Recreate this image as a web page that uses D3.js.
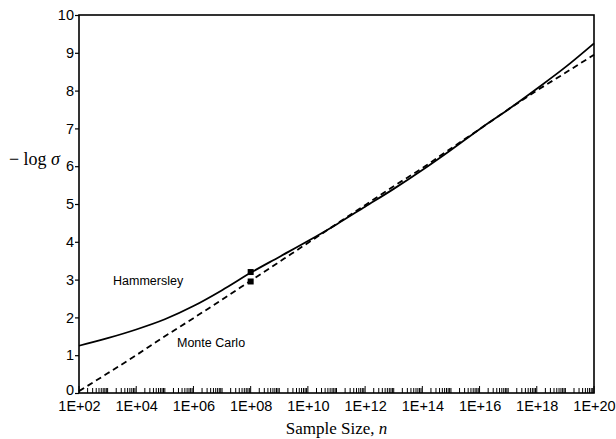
<!DOCTYPE html>
<html>
<head>
<meta charset="utf-8">
<script src="https://cdn.jsdelivr.net/npm/d3@7"></script>
<style>
  body { margin: 0; background: #fff; }
  svg { display: block; }
</style>
</head>
<body>
<div id="chart"></div>
<script>
// ------ Data ---------------------------- //

const sampleSizes = [1e2, 1e3, 1e4, 1e5, 1e6, 1e7, 1e8, 1e9, 1e10, 1e11,
  1e12, 1e13, 1e14, 1e15, 1e16, 1e17, 1e18, 1e19, 1e20];
const hammersley = [1.25, 1.45, 1.68, 1.95, 2.3, 2.72, 3.18, 3.6, 4.02, 4.46,
  4.93, 5.4, 5.9, 6.43, 6.98, 7.5, 8.05, 8.62, 9.25];
const monteCarlo = [0.05, 0.52, 1.0, 1.5, 1.98, 2.47, 2.97, 3.47, 3.97, 4.47,
  4.97, 5.47, 5.95, 6.47, 6.98, 7.5, 8.0, 8.47, 8.95];
// marked points at n = 1E+08
const markedSize = 1e8;
const markedValues = [3.2, 2.95];

const xTickValues = [1e2, 1e4, 1e6, 1e8, 1e10, 1e12, 1e14, 1e16, 1e18, 1e20];
const xTickLabels = ["1E+02", "1E+04", "1E+06", "1E+08", "1E+10",
  "1E+12", "1E+14", "1E+16", "1E+18", "1E+20"];
const yTickValues = [0, 1, 2, 3, 4, 5, 6, 7, 8, 9, 10];

// ------ Drawing area ------- //

const width = 616;
const height = 439;
const margin = { top: 15, right: 22, bottom: 46, left: 79 };

const svg = d3.select("#chart")
  .append("svg")
    .attr("width", width)
    .attr("height", height);

const x = d3.scaleLog()
  .domain([1e2, 1e20])
  .range([margin.left, width - margin.right]);
const y = d3.scaleLinear()
  .domain([0, 10])
  .range([height - margin.bottom, margin.top]);

const sans = "'Liberation Sans', Arial, sans-serif";
const serif = "'Liberation Serif', 'Times New Roman', serif";

// frame
svg.append("rect")
  .attr("x", x.range()[0])
  .attr("y", y.range()[1])
  .attr("width", x.range()[1] - x.range()[0])
  .attr("height", y.range()[0] - y.range()[1])
  .attr("fill", "none")
  .attr("stroke", "#000")
  .attr("stroke-width", 1.6);

// ------ Axes ------- //

// minor log ticks inside the bottom edge
const minorTicks = [];
for (let e = 2; e < 20; e++) {
  for (let m = 1; m < 10; m++) minorTicks.push(m * Math.pow(10, e));
}
minorTicks.push(1e20);

svg.append("g")
  .selectAll("line")
  .data(minorTicks)
  .join("line")
    .attr("x1", d => x(d))
    .attr("x2", d => x(d))
    .attr("y1", y(0))
    .attr("y2", d => y(0) - (xTickValues.includes(d) ? 7 : 5))
    .attr("stroke", "#000")
    .attr("stroke-width", 1);

const xAxis = svg.append("g")
  .attr("transform", `translate(0, ${y(0)})`)
  .call(d3.axisBottom(x)
    .tickValues(xTickValues)
    .tickFormat((d, i) => xTickLabels[i])
    .tickSize(0)
    .tickPadding(8));
xAxis.select(".domain").remove();
xAxis.selectAll("text")
  .attr("font-family", sans)
  .attr("font-size", 14.5)
  .attr("fill", "#000");

const yAxis = svg.append("g")
  .attr("transform", `translate(${x.range()[0]}, 0)`)
  .call(d3.axisLeft(y)
    .tickValues(yTickValues)
    .tickSize(4)
    .tickPadding(1));
yAxis.select(".domain").remove();
yAxis.selectAll("line").attr("stroke", "#000").attr("stroke-width", 1.2);
yAxis.selectAll("text")
  .attr("font-family", sans)
  .attr("font-size", 14.5)
  .attr("fill", "#000");
// lift the zero label clear of the first x label
yAxis.selectAll(".tick")
  .filter(d => d === 0)
  .select("text")
    .attr("dy", "0.1em");

// axis titles
svg.append("text")
  .attr("x", (x.range()[0] + x.range()[1]) / 2)
  .attr("y", 434)
  .attr("text-anchor", "middle")
  .attr("font-family", serif)
  .attr("font-size", 17)
  .html("Sample Size, <tspan font-style='italic'>n</tspan>");

svg.append("text")
  .attr("x", 60)
  .attr("y", 165)
  .attr("text-anchor", "end")
  .attr("font-family", serif)
  .attr("font-size", 18)
  .html("− log <tspan font-style='italic'>σ</tspan>");

// ------ Curves ------- //

const line = d3.line()
  .x(d => x(d[0]))
  .y(d => y(d[1]))
  .curve(d3.curveMonotoneX);

svg.append("path")
  .attr("d", line(d3.zip(sampleSizes, hammersley)))
  .attr("fill", "none")
  .attr("stroke", "#000")
  .attr("stroke-width", 1.8);

svg.append("path")
  .attr("d", line(d3.zip(sampleSizes, monteCarlo)))
  .attr("fill", "none")
  .attr("stroke", "#000")
  .attr("stroke-width", 1.8)
  .attr("stroke-dasharray", "6,4");

svg.append("g")
  .selectAll("rect")
  .data(markedValues)
  .join("rect")
    .attr("x", x(markedSize) - 3)
    .attr("y", d => y(d) - 3)
    .attr("width", 6)
    .attr("height", 6)
    .attr("fill", "#000");

// series labels
svg.append("text")
  .attr("x", 113)
  .attr("y", 285)
  .attr("font-family", sans)
  .attr("font-size", 12.5)
  .text("Hammersley");

svg.append("text")
  .attr("x", 177)
  .attr("y", 347)
  .attr("font-family", sans)
  .attr("font-size", 12.5)
  .text("Monte Carlo");
</script>
</body>
</html>
